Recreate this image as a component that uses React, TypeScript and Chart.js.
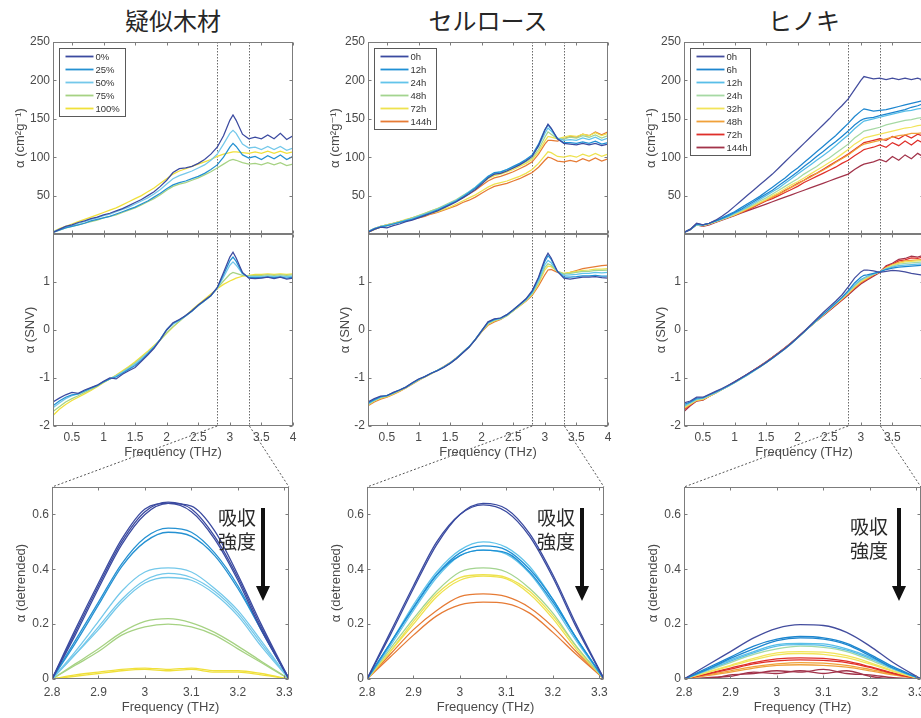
import React, { useEffect, useRef } from "react";
import { Chart, registerables } from "chart.js";
Chart.register(...registerables);

const FONT = "'Liberation Sans', 'DejaVu Sans', Arial, sans-serif";
const CJK = "'Noto Sans CJK JP', 'Noto Sans CJK SC', sans-serif";

// ---------- axes / ticks ----------
const FREQ = [0.2, 0.3, 0.4, 0.5, 0.6, 0.7, 0.8, 0.9, 1.0, 1.1, 1.2, 1.3, 1.4, 1.5, 1.6, 1.7, 1.8, 1.9, 2.0, 2.1, 2.2, 2.3, 2.4, 2.5, 2.6, 2.7, 2.8, 2.9, 3.0, 3.05, 3.1, 3.2, 3.3, 3.4, 3.5, 3.6, 3.7, 3.8, 3.9, 4.0];
const FREQ_TICKS = [0.5, 1, 1.5, 2, 2.5, 3, 3.5, 4];
const ABS_TICKS = [50, 100, 150, 200, 250];
const SNV_TICKS = [-2, -1, 0, 1];
const ZOOM_FREQ = [2.8, 2.85, 2.9, 2.95, 3.0, 3.05, 3.1, 3.15, 3.2, 3.25, 3.31];
const ZOOM_TICKS = [2.8, 2.9, 3, 3.1, 3.2, 3.3];
const DET_TICKS = [0, 0.2, 0.4, 0.6];
const CUTOFF = [2.8, 3.31];

const TITLES = ["疑似木材", "セルロース", "ヒノキ"];
const ANNOT = ["吸収", "強度"];
const X_TITLE = "Frequency (THz)";
const Y_ABS = "α (cm²g⁻¹)";
const Y_SNV = "α (SNV)";
const Y_DET = "α (detrended)";

// ---------- 疑似木材 ----------
const W_LABELS = ["0%", "25%", "50%", "75%", "100%"];
const W_COLORS = ["#3b4aa0", "#2591d2", "#74c8ea", "#a6d283", "#f0e03a"];
const W_ABS_0 = [2, 6, 10, 12, 15, 17, 20, 22, 25, 27, 30, 33, 37, 41, 45, 50, 55, 62, 70, 80, 85, 86, 88, 92, 97, 104, 113, 128, 148, 155, 148, 130, 124, 126, 124, 129, 124, 131, 123, 128];
const W_ABS_25 = [2, 5, 8, 10, 12, 14, 17, 19, 21, 23, 26, 29, 32, 35, 39, 43, 48, 53, 59, 64, 67, 69, 72, 75, 79, 84, 90, 100, 113, 118, 114, 103, 99, 101, 97, 102, 98, 103, 97, 101];
const W_ABS_50 = [3, 6, 9, 11, 14, 16, 19, 21, 24, 26, 29, 32, 35, 39, 43, 47, 52, 58, 65, 72, 76, 79, 82, 86, 90, 96, 104, 117, 131, 135, 131, 117, 112, 113, 110, 114, 110, 114, 109, 112];
const W_ABS_75 = [2, 5, 8, 10, 12, 14, 16, 18, 21, 23, 25, 28, 31, 34, 38, 42, 46, 51, 57, 62, 65, 67, 70, 73, 77, 81, 86, 91, 96, 97, 96, 93, 91, 92, 90, 93, 90, 93, 89, 91];
const W_ABS_100 = [3, 7, 10, 13, 16, 19, 22, 25, 28, 31, 34, 38, 42, 46, 50, 55, 60, 66, 72, 78, 82, 85, 88, 91, 94, 97, 101, 104, 106, 107, 107, 106, 105, 107, 105, 108, 105, 108, 105, 107];
const W_SNV_0 = [-1.5, -1.42, -1.35, -1.3, -1.32, -1.25, -1.2, -1.15, -1.07, -1.0, -1.02, -0.92, -0.85, -0.78, -0.65, -0.52, -0.38, -0.2, 0.0, 0.15, 0.22, 0.3, 0.4, 0.52, 0.62, 0.72, 0.88, 1.2, 1.52, 1.62, 1.5, 1.2, 1.08, 1.07, 1.08, 1.1, 1.07, 1.1, 1.06, 1.08];
const W_SNV_25 = [-1.58, -1.48, -1.4, -1.35, -1.33, -1.27, -1.21, -1.16, -1.08, -1.02, -0.98, -0.9, -0.82, -0.74, -0.63, -0.5, -0.36, -0.19, 0.01, 0.14, 0.21, 0.29, 0.39, 0.51, 0.61, 0.71, 0.88, 1.15, 1.44, 1.52, 1.43, 1.18, 1.09, 1.09, 1.09, 1.1, 1.09, 1.1, 1.08, 1.1];
const W_SNV_50 = [-1.62, -1.52, -1.43, -1.37, -1.33, -1.27, -1.21, -1.15, -1.08, -1.01, -0.96, -0.88, -0.8, -0.71, -0.6, -0.48, -0.35, -0.19, 0.0, 0.12, 0.2, 0.3, 0.4, 0.51, 0.61, 0.71, 0.87, 1.1, 1.35, 1.42, 1.35, 1.17, 1.11, 1.11, 1.11, 1.12, 1.11, 1.12, 1.11, 1.12];
const W_SNV_75 = [-1.7, -1.6, -1.5, -1.43, -1.37, -1.3, -1.24, -1.17, -1.09, -1.02, -0.95, -0.87, -0.78, -0.69, -0.58, -0.47, -0.35, -0.21, -0.06, 0.07, 0.18, 0.29, 0.4, 0.51, 0.61, 0.72, 0.87, 1.02, 1.16, 1.2, 1.18, 1.14, 1.13, 1.14, 1.14, 1.15, 1.14, 1.15, 1.14, 1.15];
const W_SNV_100 = [-1.78, -1.65, -1.55, -1.47, -1.4, -1.33, -1.26, -1.18, -1.1, -1.02, -0.94, -0.85, -0.76, -0.66, -0.55, -0.44, -0.32, -0.2, -0.07, 0.06, 0.18, 0.3, 0.42, 0.53, 0.64, 0.75, 0.86, 0.95, 1.02, 1.05, 1.08, 1.12, 1.14, 1.16, 1.16, 1.17, 1.16, 1.17, 1.16, 1.17];
const W_DET_0A = [0, 0.17, 0.34, 0.5, 0.61, 0.645, 0.62, 0.52, 0.37, 0.19, 0];
const W_DET_0B = [0, 0.16, 0.33, 0.49, 0.6, 0.64, 0.63, 0.54, 0.38, 0.2, 0];
const W_DET_0C = [0, 0.18, 0.35, 0.51, 0.62, 0.64, 0.61, 0.51, 0.36, 0.18, 0];
const W_DET_25A = [0, 0.13, 0.27, 0.41, 0.5, 0.535, 0.52, 0.45, 0.33, 0.18, 0];
const W_DET_25B = [0, 0.14, 0.28, 0.42, 0.515, 0.55, 0.535, 0.46, 0.34, 0.18, 0];
const W_DET_50A = [0, 0.09, 0.19, 0.29, 0.36, 0.385, 0.37, 0.32, 0.24, 0.13, 0];
const W_DET_50B = [0, 0.1, 0.21, 0.32, 0.39, 0.405, 0.39, 0.33, 0.25, 0.14, 0];
const W_DET_50C = [0, 0.09, 0.18, 0.28, 0.35, 0.37, 0.36, 0.31, 0.23, 0.12, 0];
const W_DET_75A = [0, 0.05, 0.1, 0.16, 0.19, 0.2, 0.19, 0.16, 0.11, 0.06, 0];
const W_DET_75B = [0, 0.055, 0.11, 0.17, 0.21, 0.22, 0.205, 0.17, 0.12, 0.065, 0];
const W_DET_100A = [0, 0.01, 0.02, 0.03, 0.035, 0.03, 0.035, 0.025, 0.025, 0.015, 0];
const W_DET_100B = [0, 0.015, 0.025, 0.035, 0.04, 0.035, 0.04, 0.03, 0.03, 0.02, 0];

// ---------- セルロース ----------
const C_LABELS = ["0h", "12h", "24h", "48h", "72h", "144h"];
const C_COLORS = ["#3a4aa0", "#1f90d5", "#62c4ea", "#a3d48f", "#eee24e", "#e67b35"];
const C_ABS_0 = [2, 6, 9, 8, 11, 13, 16, 18, 21, 24, 27, 30, 34, 38, 42, 47, 52, 58, 65, 73, 78, 79, 82, 86, 90, 95, 101, 115, 135, 143, 138, 124, 118, 117, 116, 118, 116, 118, 115, 117];
const C_ABS_12 = [3, 7, 9, 11, 13, 15, 17, 19, 22, 25, 28, 31, 35, 39, 43, 48, 54, 60, 67, 75, 80, 81, 84, 88, 92, 97, 103, 117, 136, 142, 137, 124, 119, 119, 118, 120, 118, 121, 117, 119];
const C_ABS_24 = [3, 7, 10, 11, 13, 15, 18, 20, 23, 26, 29, 32, 36, 40, 44, 49, 55, 61, 68, 75, 79, 81, 84, 87, 91, 96, 102, 114, 131, 138, 134, 125, 122, 123, 122, 125, 123, 126, 122, 125];
const C_ABS_48 = [3, 6, 10, 12, 14, 16, 18, 21, 24, 27, 30, 33, 37, 41, 45, 50, 55, 61, 68, 74, 78, 80, 83, 86, 90, 94, 99, 110, 126, 133, 130, 124, 124, 126, 125, 128, 126, 129, 125, 128];
const C_ABS_72 = [3, 7, 10, 12, 14, 16, 19, 21, 24, 27, 30, 33, 36, 40, 44, 49, 54, 60, 66, 72, 76, 78, 81, 84, 88, 92, 97, 107, 121, 127, 126, 124, 126, 128, 127, 130, 128, 132, 128, 131];
const C_ABS_72B = [2, 6, 9, 11, 13, 15, 17, 19, 22, 24, 27, 29, 32, 35, 39, 43, 47, 51, 56, 61, 65, 67, 69, 72, 75, 79, 84, 92, 102, 107, 106, 101, 100, 102, 100, 104, 101, 105, 101, 104];
const C_ABS_144 = [2, 6, 9, 11, 13, 15, 17, 19, 21, 23, 26, 28, 31, 34, 37, 41, 44, 48, 53, 58, 62, 64, 66, 69, 72, 76, 80, 87, 96, 100, 99, 95, 94, 96, 94, 98, 95, 99, 95, 98];
const C_ABS_144B = [3, 7, 10, 12, 14, 16, 18, 21, 23, 26, 29, 32, 35, 39, 43, 47, 52, 57, 63, 69, 73, 75, 78, 81, 85, 89, 94, 104, 117, 122, 122, 121, 124, 127, 126, 130, 128, 133, 129, 133];
const C_SNV_0 = [-1.5, -1.43, -1.38, -1.37, -1.3, -1.25, -1.19, -1.1, -1.02, -0.97, -0.9, -0.85, -0.78, -0.7, -0.6, -0.48, -0.36, -0.2, -0.02, 0.17, 0.23, 0.25, 0.32, 0.42, 0.53, 0.65, 0.82, 1.1, 1.48, 1.6, 1.5, 1.22, 1.08, 1.06, 1.08, 1.1, 1.1, 1.11, 1.09, 1.08];
const C_SNV_12 = [-1.52, -1.45, -1.39, -1.36, -1.31, -1.25, -1.19, -1.11, -1.03, -0.97, -0.9, -0.84, -0.77, -0.69, -0.59, -0.47, -0.35, -0.19, -0.01, 0.16, 0.22, 0.25, 0.32, 0.42, 0.53, 0.64, 0.8, 1.08, 1.43, 1.55, 1.47, 1.22, 1.1, 1.1, 1.11, 1.13, 1.13, 1.14, 1.12, 1.12];
const C_SNV_24 = [-1.54, -1.46, -1.4, -1.37, -1.31, -1.25, -1.19, -1.11, -1.03, -0.97, -0.9, -0.84, -0.77, -0.69, -0.59, -0.47, -0.35, -0.2, -0.02, 0.15, 0.21, 0.24, 0.31, 0.41, 0.52, 0.63, 0.78, 1.03, 1.36, 1.45, 1.4, 1.22, 1.14, 1.15, 1.16, 1.18, 1.18, 1.2, 1.19, 1.2];
const C_SNV_48 = [-1.55, -1.47, -1.41, -1.38, -1.32, -1.26, -1.2, -1.12, -1.04, -0.98, -0.91, -0.84, -0.77, -0.69, -0.59, -0.47, -0.35, -0.2, -0.03, 0.13, 0.2, 0.23, 0.3, 0.4, 0.51, 0.62, 0.76, 0.99, 1.3, 1.38, 1.35, 1.22, 1.17, 1.18, 1.2, 1.22, 1.22, 1.24, 1.24, 1.25];
const C_SNV_72 = [-1.56, -1.48, -1.42, -1.39, -1.33, -1.27, -1.2, -1.12, -1.04, -0.98, -0.91, -0.84, -0.77, -0.69, -0.59, -0.47, -0.35, -0.2, -0.03, 0.12, 0.19, 0.23, 0.3, 0.4, 0.5, 0.61, 0.74, 0.96, 1.25, 1.33, 1.32, 1.22, 1.18, 1.2, 1.22, 1.24, 1.25, 1.27, 1.27, 1.28];
const C_SNV_144 = [-1.58, -1.5, -1.44, -1.4, -1.34, -1.28, -1.21, -1.13, -1.05, -0.98, -0.91, -0.84, -0.76, -0.68, -0.58, -0.47, -0.35, -0.2, -0.04, 0.1, 0.17, 0.22, 0.3, 0.4, 0.5, 0.6, 0.72, 0.92, 1.15, 1.25, 1.26, 1.2, 1.17, 1.2, 1.24, 1.28, 1.3, 1.32, 1.34, 1.35];
const C_DET_0A = [0, 0.17, 0.34, 0.5, 0.6, 0.635, 0.61, 0.52, 0.37, 0.19, 0];
const C_DET_0B = [0, 0.16, 0.33, 0.49, 0.6, 0.64, 0.62, 0.53, 0.38, 0.2, 0];
const C_DET_12A = [0, 0.13, 0.26, 0.38, 0.46, 0.485, 0.47, 0.4, 0.29, 0.15, 0];
const C_DET_12B = [0, 0.13, 0.26, 0.38, 0.45, 0.47, 0.46, 0.39, 0.28, 0.15, 0];
const C_DET_24A = [0, 0.12, 0.25, 0.37, 0.45, 0.47, 0.455, 0.385, 0.27, 0.14, 0];
const C_DET_24B = [0, 0.13, 0.27, 0.39, 0.47, 0.5, 0.48, 0.41, 0.29, 0.15, 0];
const C_DET_48 = [0, 0.11, 0.22, 0.32, 0.39, 0.405, 0.39, 0.33, 0.24, 0.12, 0];
const C_DET_72A = [0, 0.1, 0.2, 0.3, 0.36, 0.375, 0.365, 0.31, 0.22, 0.11, 0];
const C_DET_72B = [0, 0.1, 0.21, 0.31, 0.37, 0.38, 0.37, 0.32, 0.23, 0.12, 0];
const C_DET_144A = [0, 0.09, 0.18, 0.25, 0.3, 0.31, 0.3, 0.26, 0.19, 0.1, 0];
const C_DET_144B = [0, 0.08, 0.16, 0.23, 0.27, 0.28, 0.275, 0.24, 0.17, 0.09, 0];

// ---------- ヒノキ ----------
const K_LABELS = ["0h", "6h", "12h", "24h", "32h", "48h", "72h", "144h"];
const K_COLORS = ["#434d9e", "#1d86cf", "#58bee8", "#a6d9a4", "#f2e45a", "#f0a13a", "#df2f2a", "#a2334a"];
const K_ABS_0 = [2, 6, 14, 12, 14, 18, 23, 29, 36, 43, 50, 57, 64, 71, 78, 86, 94, 102, 110, 118, 126, 134, 142, 150, 159, 167, 176, 188, 200, 205, 204, 202, 203, 201, 203, 201, 203, 201, 203, 200];
const K_ABS_6 = [2, 6, 13, 12, 14, 17, 21, 25, 29, 34, 39, 44, 49, 55, 61, 67, 73, 80, 86, 93, 100, 107, 114, 121, 128, 136, 144, 153, 160, 163, 162, 160, 161, 162, 164, 166, 168, 170, 172, 174];
const K_ABS_6B = [2, 6, 13, 12, 14, 17, 20, 24, 28, 32, 37, 42, 47, 52, 57, 63, 69, 75, 81, 88, 94, 101, 107, 114, 120, 127, 134, 142, 148, 150, 151, 152, 154, 156, 158, 160, 162, 165, 167, 170];
const K_ABS_12 = [2, 6, 12, 12, 14, 17, 20, 23, 27, 31, 35, 40, 45, 50, 55, 60, 66, 72, 78, 84, 90, 96, 102, 108, 115, 122, 129, 137, 144, 147, 148, 150, 152, 154, 156, 158, 160, 161, 163, 164];
const K_ABS_24 = [2, 6, 12, 11, 13, 16, 19, 22, 26, 30, 34, 38, 43, 47, 52, 57, 62, 67, 72, 78, 83, 88, 94, 99, 105, 111, 117, 125, 131, 134, 135, 137, 139, 142, 144, 146, 148, 149, 151, 152];
const K_ABS_32 = [2, 6, 12, 11, 13, 16, 19, 22, 25, 29, 33, 37, 41, 45, 50, 54, 59, 64, 68, 73, 78, 83, 88, 93, 98, 104, 110, 117, 122, 125, 126, 128, 130, 132, 134, 136, 138, 139, 141, 142];
const K_ABS_48 = [2, 6, 12, 11, 13, 16, 19, 22, 25, 28, 32, 36, 40, 44, 48, 52, 56, 61, 65, 70, 74, 79, 83, 88, 93, 98, 103, 109, 115, 117, 118, 120, 122, 124, 126, 128, 129, 131, 131, 132];
const K_ABS_72 = [2, 6, 13, 11, 13, 16, 19, 22, 25, 28, 31, 35, 39, 43, 46, 50, 54, 58, 62, 67, 71, 75, 79, 83, 87, 92, 96, 102, 107, 110, 111, 113, 116, 113, 119, 115, 121, 116, 122, 118];
const K_ABS_72B = [2, 6, 13, 11, 13, 16, 19, 22, 25, 28, 32, 36, 40, 44, 48, 52, 57, 61, 66, 70, 75, 79, 84, 89, 94, 99, 104, 110, 116, 119, 120, 122, 124, 122, 127, 124, 129, 125, 130, 127];
const K_ABS_144 = [2, 6, 12, 10, 12, 15, 18, 21, 24, 27, 30, 33, 36, 39, 42, 45, 48, 51, 54, 57, 60, 63, 66, 69, 72, 75, 78, 84, 89, 91, 92, 94, 97, 94, 101, 96, 103, 98, 105, 100];
const K_SNV_0 = [-1.52, -1.48, -1.4, -1.4, -1.34, -1.28, -1.22, -1.15, -1.08, -1.0, -0.92, -0.84, -0.76, -0.67, -0.58, -0.48, -0.38, -0.27, -0.15, -0.03, 0.1, 0.23, 0.36, 0.48, 0.6, 0.73, 0.9, 1.08, 1.21, 1.25, 1.25, 1.23, 1.2, 1.22, 1.24, 1.23, 1.21, 1.18, 1.16, 1.14];
const K_SNV_6 = [-1.55, -1.5, -1.42, -1.41, -1.35, -1.29, -1.23, -1.16, -1.09, -1.01, -0.93, -0.85, -0.77, -0.68, -0.59, -0.49, -0.39, -0.28, -0.16, -0.04, 0.08, 0.2, 0.32, 0.44, 0.56, 0.68, 0.82, 0.98, 1.1, 1.14, 1.15, 1.18, 1.21, 1.26, 1.29, 1.31, 1.32, 1.33, 1.34, 1.35];
const K_SNV_12 = [-1.58, -1.51, -1.44, -1.42, -1.36, -1.3, -1.24, -1.17, -1.1, -1.02, -0.94, -0.86, -0.77, -0.68, -0.59, -0.49, -0.39, -0.28, -0.16, -0.04, 0.08, 0.2, 0.32, 0.43, 0.55, 0.67, 0.8, 0.94, 1.05, 1.09, 1.12, 1.17, 1.21, 1.27, 1.31, 1.34, 1.35, 1.36, 1.37, 1.38];
const K_SNV_24 = [-1.6, -1.53, -1.45, -1.43, -1.37, -1.31, -1.24, -1.17, -1.1, -1.02, -0.94, -0.86, -0.77, -0.68, -0.59, -0.49, -0.39, -0.28, -0.16, -0.04, 0.08, 0.19, 0.31, 0.43, 0.54, 0.66, 0.78, 0.92, 1.03, 1.07, 1.1, 1.16, 1.21, 1.28, 1.33, 1.37, 1.39, 1.4, 1.41, 1.42];
const K_SNV_32 = [-1.62, -1.54, -1.46, -1.44, -1.38, -1.31, -1.24, -1.17, -1.1, -1.02, -0.94, -0.85, -0.77, -0.68, -0.58, -0.49, -0.38, -0.27, -0.16, -0.04, 0.08, 0.19, 0.31, 0.42, 0.54, 0.65, 0.77, 0.9, 1.01, 1.05, 1.09, 1.16, 1.21, 1.29, 1.35, 1.39, 1.42, 1.43, 1.44, 1.45];
const K_SNV_48 = [-1.64, -1.55, -1.47, -1.45, -1.38, -1.31, -1.24, -1.17, -1.09, -1.01, -0.93, -0.85, -0.76, -0.67, -0.58, -0.48, -0.38, -0.27, -0.15, -0.04, 0.08, 0.19, 0.3, 0.42, 0.53, 0.64, 0.76, 0.88, 0.99, 1.03, 1.07, 1.15, 1.21, 1.3, 1.36, 1.41, 1.44, 1.45, 1.46, 1.47];
const K_SNV_72 = [-1.66, -1.56, -1.47, -1.45, -1.38, -1.31, -1.24, -1.16, -1.09, -1.01, -0.93, -0.84, -0.76, -0.67, -0.57, -0.48, -0.37, -0.27, -0.15, -0.03, 0.08, 0.19, 0.3, 0.41, 0.52, 0.63, 0.75, 0.87, 0.98, 1.02, 1.06, 1.14, 1.21, 1.32, 1.37, 1.44, 1.46, 1.5, 1.49, 1.53];
const K_SNV_144 = [-1.7, -1.58, -1.48, -1.46, -1.38, -1.31, -1.24, -1.16, -1.08, -1.0, -0.92, -0.84, -0.75, -0.66, -0.57, -0.47, -0.37, -0.26, -0.15, -0.03, 0.08, 0.19, 0.29, 0.4, 0.51, 0.62, 0.73, 0.85, 0.96, 1.0, 1.04, 1.12, 1.2, 1.34, 1.39, 1.47, 1.49, 1.54, 1.52, 1.56];
const K_DET_0 = [0, 0.05, 0.1, 0.15, 0.185, 0.198, 0.195, 0.17, 0.12, 0.06, 0];
const K_DET_6A = [0, 0.04, 0.08, 0.12, 0.145, 0.155, 0.15, 0.13, 0.09, 0.045, 0];
const K_DET_6B = [0, 0.035, 0.075, 0.11, 0.14, 0.15, 0.145, 0.125, 0.085, 0.04, 0];
const K_DET_12A = [0, 0.035, 0.07, 0.1, 0.125, 0.13, 0.128, 0.11, 0.08, 0.04, 0];
const K_DET_12B = [0, 0.032, 0.065, 0.095, 0.12, 0.125, 0.122, 0.105, 0.075, 0.038, 0];
const K_DET_24 = [0, 0.03, 0.06, 0.09, 0.11, 0.12, 0.115, 0.1, 0.07, 0.035, 0];
const K_DET_32A = [0, 0.025, 0.05, 0.075, 0.095, 0.1, 0.098, 0.085, 0.06, 0.03, 0];
const K_DET_32B = [0, 0.023, 0.047, 0.07, 0.088, 0.093, 0.09, 0.078, 0.055, 0.027, 0];
const K_DET_48A = [0, 0.015, 0.03, 0.045, 0.055, 0.06, 0.058, 0.05, 0.035, 0.018, 0];
const K_DET_48B = [0, 0.012, 0.025, 0.04, 0.05, 0.052, 0.05, 0.043, 0.03, 0.015, 0];
const K_DET_72A = [0, 0.02, 0.04, 0.06, 0.073, 0.077, 0.075, 0.065, 0.045, 0.022, 0];
const K_DET_72B = [0, 0.018, 0.036, 0.055, 0.066, 0.07, 0.068, 0.06, 0.042, 0.02, 0];
const K_DET_144A = [0, 0.0, 0.015, 0.02, 0.03, 0.025, 0.035, 0.02, 0.015, 0.005, 0];
const K_DET_144B = [0, 0.005, 0.01, 0.025, 0.02, 0.03, 0.02, 0.03, 0.01, 0.0, 0];

// ---------- layout ----------
const TOP_Y = 42;
const MID_Y = 234;
const ZOOM_Y = 487;
const PANEL_H = 192;
const MAIN_W = 240;
const ZOOM_W = 237;
const COL_LEFT = [53, 368, 684];
const ZOOM_LEFT = [52, 367, 684];
const LEGEND_W = [66, 62, 60];

type Line = { g: number; d: number[] };
type PanelCfg = {
  left: number; top: number; w: number; h: number;
  xs: number[]; lines: Line[]; colors: string[];
  xMin: number; xMax: number; yMin: number; yMax: number;
  xTicks: number[]; yTicks: number[];
  xTitle: string | null; yTitle: string;
  yTitlePad: number; xTickPad: number; xTitlePad: number;
  cutoffs: number[] | null;
  legend: { labels: string[]; width: number } | null;
  smooth: boolean; lineWidth: number;
};

const YW = 50, PL = 4, PT = 12, PR = 14, PB = 12, XH = 36;
const TICK_SIZE = 12;
const TITLE_SIZE = 13;

function Panel({ cfg }: { cfg: PanelCfg }) {
  const ref = useRef<HTMLCanvasElement | null>(null);
  const xh = cfg.xTitle ? XH : 0;
  const cw = PL + YW + cfg.w + PR;
  const ch = PT + cfg.h + xh + PB;
  useEffect(() => {
    const canvas = ref.current;
    if (!canvas) return;
    const frame = {
      id: "frame",
      beforeDatasetsDraw(chart: any) {
        if (!cfg.cutoffs) return;
        const { ctx, chartArea: a } = chart;
        const x = chart.scales.x;
        ctx.save();
        ctx.strokeStyle = "#6a6a6a";
        ctx.lineWidth = 1;
        ctx.setLineDash([1.5, 1.5]);
        for (const v of cfg.cutoffs) {
          const px = Math.round(x.getPixelForValue(v)) + 0.5;
          ctx.beginPath();
          ctx.moveTo(px, a.top);
          ctx.lineTo(px, a.bottom);
          ctx.stroke();
        }
        ctx.restore();
      },
      afterDatasetsDraw(chart: any) {
        const { ctx, chartArea: a } = chart;
        const x = chart.scales.x, y = chart.scales.y;
        ctx.save();
        ctx.strokeStyle = "#7c7c7c";
        ctx.lineWidth = 1;
        const L = Math.round(a.left) + 0.5, R = Math.round(a.right) - 0.5;
        const T = Math.round(a.top) + 0.5, B = Math.round(a.bottom) - 0.5;
        ctx.strokeRect(L, T, R - L, B - T);
        ctx.beginPath();
        for (const v of cfg.xTicks) {
          const px = Math.round(x.getPixelForValue(v)) + 0.5;
          ctx.moveTo(px, B); ctx.lineTo(px, B - 3);
          ctx.moveTo(px, T); ctx.lineTo(px, T + 3);
        }
        for (const v of cfg.yTicks) {
          const py = Math.round(y.getPixelForValue(v)) + 0.5;
          ctx.moveTo(L, py); ctx.lineTo(L + 3, py);
          ctx.moveTo(R, py); ctx.lineTo(R - 3, py);
        }
        ctx.stroke();
        if (cfg.legend) {
          const lg = cfg.legend;
          const bx = L + 6, by = T + 6, rowH = 13;
          const bh = lg.labels.length * rowH + 3;
          ctx.fillStyle = "#ffffff";
          ctx.fillRect(bx, by, lg.width, bh);
          ctx.strokeStyle = "#5a5a5a";
          ctx.strokeRect(bx, by, lg.width, bh);
          ctx.font = `9.5px ${FONT}`;
          ctx.textBaseline = "middle";
          ctx.textAlign = "left";
          lg.labels.forEach((lab, i) => {
            const ry = by + 8 + i * rowH;
            ctx.strokeStyle = cfg.colors[i];
            ctx.lineWidth = 1.8;
            ctx.beginPath();
            ctx.moveTo(bx + 6, ry);
            ctx.lineTo(bx + 34, ry);
            ctx.stroke();
            ctx.fillStyle = "#333333";
            ctx.fillText(lab, bx + 36, ry + 0.5);
          });
        }
        ctx.restore();
      },
    };
    const chart = new Chart(canvas, {
      type: "line",
      data: {
        datasets: cfg.lines.map((ln) => ({
          label: "s",
          data: cfg.xs.map((xv, i) => ({ x: xv, y: ln.d[i] })),
          borderColor: cfg.colors[ln.g],
          backgroundColor: cfg.colors[ln.g],
          borderWidth: cfg.lineWidth,
          pointRadius: 0,
          fill: false,
          cubicInterpolationMode: cfg.smooth ? "monotone" : "default",
          tension: 0,
        })),
      },
      options: {
        animation: false,
        responsive: false,
        maintainAspectRatio: false,
        events: [],
        layout: { padding: { left: PL, top: PT, right: PR, bottom: PB } },
        plugins: { legend: { display: false }, tooltip: { enabled: false }, title: { display: false } },
        scales: {
          x: {
            type: "linear",
            min: cfg.xMin,
            max: cfg.xMax,
            grid: { display: false, drawTicks: false },
            border: { display: false },
            ticks: {
              display: !!cfg.xTitle,
              autoSkip: false,
              maxRotation: 0,
              padding: cfg.xTickPad,
              color: "#4a4a4a",
              font: { family: FONT, size: TICK_SIZE },
              callback: (v: any) => String(v),
            },
            title: {
              display: !!cfg.xTitle,
              text: cfg.xTitle || "",
              color: "#4a4a4a",
              font: { family: FONT, size: TITLE_SIZE },
              padding: { top: 0, bottom: cfg.xTitlePad },
            },
            afterBuildTicks: (s: any) => { s.ticks = cfg.xTicks.map((v) => ({ value: v })); },
            afterFit: (s: any) => { s.height = xh; },
          },
          y: {
            type: "linear",
            min: cfg.yMin,
            max: cfg.yMax,
            grid: { display: false, drawTicks: false },
            border: { display: false },
            ticks: {
              padding: 3,
              color: "#4a4a4a",
              font: { family: FONT, size: TICK_SIZE },
              callback: (v: any) => String(v),
            },
            title: {
              display: true,
              text: cfg.yTitle,
              color: "#4a4a4a",
              font: { family: FONT, size: TITLE_SIZE },
              padding: { top: cfg.yTitlePad, bottom: 0 },
            },
            afterBuildTicks: (s: any) => { s.ticks = cfg.yTicks.map((v) => ({ value: v })); },
            afterFit: (s: any) => { s.width = YW; },
          },
        },
      } as any,
      plugins: [frame],
    });
    return () => chart.destroy();
  }, []);
  return (
    <canvas
      ref={ref}
      width={cw}
      height={ch}
      style={{ position: "absolute", left: cfg.left - YW - PL, top: cfg.top - PT, width: cw, height: ch }}
    />
  );
}

type ColData = {
  labels: string[]; colors: string[];
  abs: Line[]; snv: Line[]; det: Line[];
};

const COLS: ColData[] = [
  {
    labels: W_LABELS, colors: W_COLORS,
    abs: [{ g: 0, d: W_ABS_0 }, { g: 1, d: W_ABS_25 }, { g: 2, d: W_ABS_50 }, { g: 3, d: W_ABS_75 }, { g: 4, d: W_ABS_100 }],
    snv: [{ g: 0, d: W_SNV_0 }, { g: 1, d: W_SNV_25 }, { g: 2, d: W_SNV_50 }, { g: 3, d: W_SNV_75 }, { g: 4, d: W_SNV_100 }],
    det: [
      { g: 0, d: W_DET_0A }, { g: 0, d: W_DET_0B }, { g: 0, d: W_DET_0C },
      { g: 1, d: W_DET_25A }, { g: 1, d: W_DET_25B },
      { g: 2, d: W_DET_50A }, { g: 2, d: W_DET_50B }, { g: 2, d: W_DET_50C },
      { g: 3, d: W_DET_75A }, { g: 3, d: W_DET_75B },
      { g: 4, d: W_DET_100A }, { g: 4, d: W_DET_100B },
    ],
  },
  {
    labels: C_LABELS, colors: C_COLORS,
    abs: [
      { g: 0, d: C_ABS_0 }, { g: 1, d: C_ABS_12 }, { g: 2, d: C_ABS_24 }, { g: 3, d: C_ABS_48 },
      { g: 4, d: C_ABS_72 }, { g: 4, d: C_ABS_72B }, { g: 5, d: C_ABS_144 }, { g: 5, d: C_ABS_144B },
    ],
    snv: [
      { g: 0, d: C_SNV_0 }, { g: 1, d: C_SNV_12 }, { g: 2, d: C_SNV_24 },
      { g: 3, d: C_SNV_48 }, { g: 4, d: C_SNV_72 }, { g: 5, d: C_SNV_144 },
    ],
    det: [
      { g: 0, d: C_DET_0A }, { g: 0, d: C_DET_0B },
      { g: 1, d: C_DET_12A }, { g: 1, d: C_DET_12B },
      { g: 2, d: C_DET_24A }, { g: 2, d: C_DET_24B },
      { g: 3, d: C_DET_48 },
      { g: 4, d: C_DET_72A }, { g: 4, d: C_DET_72B },
      { g: 5, d: C_DET_144A }, { g: 5, d: C_DET_144B },
    ],
  },
  {
    labels: K_LABELS, colors: K_COLORS,
    abs: [
      { g: 0, d: K_ABS_0 }, { g: 1, d: K_ABS_6 }, { g: 1, d: K_ABS_6B }, { g: 2, d: K_ABS_12 },
      { g: 3, d: K_ABS_24 }, { g: 4, d: K_ABS_32 }, { g: 5, d: K_ABS_48 },
      { g: 6, d: K_ABS_72 }, { g: 6, d: K_ABS_72B }, { g: 7, d: K_ABS_144 },
    ],
    snv: [
      { g: 0, d: K_SNV_0 }, { g: 1, d: K_SNV_6 }, { g: 2, d: K_SNV_12 }, { g: 3, d: K_SNV_24 },
      { g: 4, d: K_SNV_32 }, { g: 5, d: K_SNV_48 }, { g: 6, d: K_SNV_72 }, { g: 7, d: K_SNV_144 },
    ],
    det: [
      { g: 0, d: K_DET_0 }, { g: 1, d: K_DET_6A }, { g: 1, d: K_DET_6B },
      { g: 2, d: K_DET_12A }, { g: 2, d: K_DET_12B }, { g: 3, d: K_DET_24 },
      { g: 4, d: K_DET_32A }, { g: 4, d: K_DET_32B },
      { g: 6, d: K_DET_72A }, { g: 6, d: K_DET_72B },
      { g: 5, d: K_DET_48A }, { g: 5, d: K_DET_48B },
      { g: 7, d: K_DET_144A }, { g: 7, d: K_DET_144B },
    ],
  },
];

function buildPanels(c: number): PanelCfg[] {
  const col = COLS[c];
  const base = {
    w: MAIN_W, h: PANEL_H, xs: FREQ, colors: col.colors,
    xMin: FREQ[0], xMax: FREQ[FREQ.length - 1], xTicks: FREQ_TICKS,
    smooth: false, lineWidth: 1.25, cutoffs: CUTOFF,
    xTickPad: 4, xTitlePad: 2,
  };
  return [
    {
      ...base, left: COL_LEFT[c], top: TOP_Y, lines: col.abs,
      yMin: 0, yMax: 250, yTicks: ABS_TICKS, xTitle: null, yTitle: Y_ABS, yTitlePad: 10,
      legend: { labels: col.labels, width: LEGEND_W[c] },
    },
    {
      ...base, left: COL_LEFT[c], top: MID_Y, lines: col.snv,
      yMin: -2, yMax: 2, yTicks: SNV_TICKS, xTitle: X_TITLE, yTitle: Y_SNV, yTitlePad: 20,
      legend: null,
    },
    {
      left: ZOOM_LEFT[c], top: ZOOM_Y, w: ZOOM_W, h: PANEL_H, xs: ZOOM_FREQ, lines: col.det, colors: col.colors,
      xMin: 2.8, xMax: 3.31, yMin: 0, yMax: 0.7, xTicks: ZOOM_TICKS, yTicks: DET_TICKS,
      xTitle: X_TITLE, yTitle: Y_DET, yTitlePad: 12, xTickPad: 6, xTitlePad: 0,
      cutoffs: null, legend: null, smooth: true, lineWidth: 1.3,
    },
  ];
}

const ARROW_X = [263, 582, 899];
const ANNOT_LEFT = [218, 537, 850];
const ANNOT_TOP = [505, 505, 514];

export default function App() {
  const panels = [0, 1, 2].flatMap((c) => buildPanels(c));
  const xAt = (c: number, v: number) => COL_LEFT[c] + ((v - FREQ[0]) / (FREQ[FREQ.length - 1] - FREQ[0])) * MAIN_W;
  const midBottom = MID_Y + PANEL_H;
  return (
    <div style={{ position: "fixed", left: 0, top: 0, width: 921, height: 718, overflow: "hidden", background: "#ffffff" }}>
      {TITLES.map((t, c) => (
        <div
          key={"t" + c}
          style={{
            position: "absolute", left: COL_LEFT[c] + MAIN_W / 2 - 120, width: 240, top: 5,
            lineHeight: "30px", textAlign: "center", fontFamily: CJK, fontSize: 24, color: "#262626",
          }}
        >
          {t}
        </div>
      ))}
      {panels.map((p, i) => (
        <Panel key={i} cfg={p} />
      ))}
      <svg width={921} height={718} style={{ position: "absolute", left: 0, top: 0, pointerEvents: "none" }}>
        {[0, 1, 2].map((c) => (
          <g key={"c" + c} stroke="#555" strokeWidth={1} strokeDasharray="2 2" fill="none">
            <line x1={xAt(c, CUTOFF[0])} y1={midBottom} x2={ZOOM_LEFT[c]} y2={ZOOM_Y} />
            <line x1={xAt(c, CUTOFF[1])} y1={midBottom} x2={ZOOM_LEFT[c] + ZOOM_W} y2={ZOOM_Y} />
          </g>
        ))}
        {ARROW_X.map((ax, c) => (
          <g key={"a" + c}>
            <line x1={ax} y1={508} x2={ax} y2={588} stroke="#111" strokeWidth={4} />
            <polygon points={`${ax - 7},586 ${ax + 7},586 ${ax},601`} fill="#111" />
          </g>
        ))}
      </svg>
      {ANNOT_LEFT.map((l, c) => (
        <div
          key={"n" + c}
          style={{
            position: "absolute", left: l, top: ANNOT_TOP[c], fontFamily: CJK, fontSize: 19,
            lineHeight: "24px", color: "#2a2a2a", whiteSpace: "pre",
          }}
        >
          {ANNOT[0]}
          <br />
          {ANNOT[1]}
        </div>
      ))}
    </div>
  );
}
